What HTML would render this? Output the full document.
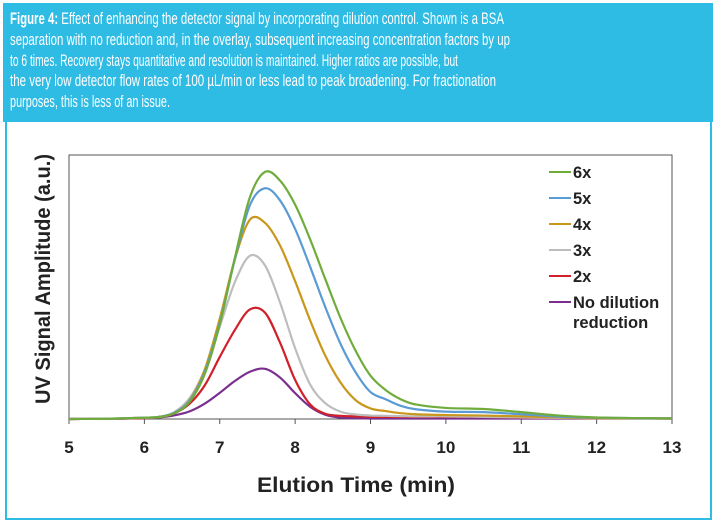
<!DOCTYPE html>
<html><head><meta charset="utf-8"><style>
html,body{margin:0;padding:0;background:#fff;}
svg{display:block;font-family:"Liberation Sans",sans-serif;}
</style></head><body>
<svg id="chart" width="716" height="524" viewBox="0 0 716 524">
<rect x="6" y="4" width="705" height="515" fill="#fff" stroke="#2ebbe4" stroke-width="2"/>
<rect x="3" y="3" width="710" height="119" fill="#2ebbe4"/>
<g fill="#fff" font-size="16.5">
<text x="10" y="24" textLength="494" lengthAdjust="spacingAndGlyphs"><tspan font-weight="bold">Figure 4:</tspan> Effect of enhancing the detector signal by incorporating dilution control. Shown is a BSA</text>
<text x="10" y="45" textLength="500" lengthAdjust="spacingAndGlyphs">separation with no reduction and, in the overlay, subsequent increasing concentration factors by up</text>
<text x="10" y="66" textLength="448" lengthAdjust="spacingAndGlyphs">to 6 times. Recovery stays quantitative and resolution is maintained. Higher ratios are possible, but</text>
<text x="10" y="86" textLength="486" lengthAdjust="spacingAndGlyphs">the very low detector flow rates of 100 µL/min or less lead to peak broadening. For fractionation</text>
<text x="10" y="107" textLength="160" lengthAdjust="spacingAndGlyphs">purposes, this is less of an issue.</text>
</g>
<rect x="69" y="155" width="603" height="264" fill="none" stroke="#555" stroke-width="1"/>
<g id="ticks"></g>
<g id="series"></g>
<g id="legend"></g>
<text x="356" y="492" text-anchor="middle" font-size="21" font-weight="bold" fill="#222" textLength="198" lengthAdjust="spacingAndGlyphs">Elution Time (min)</text>
<text transform="translate(50,279) rotate(-90)" text-anchor="middle" font-size="21" font-weight="bold" fill="#222" textLength="250" lengthAdjust="spacingAndGlyphs">UV Signal Amplitude (a.u.)</text>
</svg>
<script>
const times = [5,5.5,6,6.2,6.4,6.6,6.8,7,7.2,7.4,7.6,7.8,8,8.2,8.4,8.6,8.8,9,9.2,9.4,9.6,10,10.5,11,11.5,12,13];
const s6x = [0,0.1,0.5,0.8,2.2,6.5,17,35.8,61,84,93.6,90.3,81.2,68,53,38.4,26,16.4,11,7.5,5.5,4.2,3.8,2.6,1.3,0.6,0.2];
const s5x = [0,0.1,0.5,0.8,2.4,6.9,17.7,36.4,60.4,81,87.4,82.8,72,57.6,42.4,28.6,17.8,10.2,7.5,5,3.7,2.8,2.6,1.8,0.9,0.5,0.2];
const s4x = [0,0.1,0.5,0.7,2.3,7.1,18.7,38,60.5,75.5,74.3,65.7,52.2,37.3,24,13.9,7.2,4,3,2.2,1.8,1.5,1.3,1,0.6,0.3,0.2];
const s3x = [0,0.1,0.5,0.8,2.7,7.9,18.5,35,51.8,61.8,58.2,44.1,26.8,13,6,2.8,1.7,1.3,1.2,1.1,1,1,0.8,0.6,0.4,0.3,0.2];
const s2x = [0,0.1,0.3,0.8,2.2,5.8,12.7,23.5,33.7,41.5,40.3,28.9,14.8,5.5,2,1.2,1,0.8,0.8,0.8,0.8,0.8,0.8,0.5,0.4,0.3,0.2];
const s1x = [0,0.1,0.3,0.6,1.4,2.9,5.8,9.9,14.4,17.9,19,15.7,9.8,4.6,1.6,0.5,0.3,0.2,0.2,0.2,0.2,0.2,0.2,0.2,0.2,0.2,0.2];
const seriesNames = ["6x","5x","4x","3x","2x","No dilution reduction"];
const seriesColors = ["#6fac3c","#5b9bd5","#c9971b","#bdbdbd","#d0202a","#7a2f8f"];
const seriesData = [s6x,s5x,s4x,s3x,s2x,s1x];
const xTicks = [5,6,7,8,9,10,11,12,13];
const NS="http://www.w3.org/2000/svg";
function xs(t){return 69+(t-5)*(603/8);}
function ys(v){return 419-v*2.64;}
const tg=document.getElementById('ticks');
xTicks.forEach(t=>{
  const l=document.createElementNS(NS,'line');
  l.setAttribute('x1',xs(t));l.setAttribute('x2',xs(t));l.setAttribute('y1',419);l.setAttribute('y2',424);
  l.setAttribute('stroke','#555');
  
  
  tg.appendChild(l);
  const tx=document.createElementNS(NS,'text');
  tx.setAttribute('x',xs(t));tx.setAttribute('y',453);tx.setAttribute('text-anchor','middle');
  tx.setAttribute('font-size','17');tx.setAttribute('font-weight','bold');tx.setAttribute('fill','#222');
  tx.textContent=t;
  
  
  tg.appendChild(tx);
});
function pathFor(vals){
  const p=times.map((t,i)=>[xs(t),ys(vals[i])]);
  let d='M'+p[0][0]+','+p[0][1];
  for(let i=0;i<p.length-1;i++){
    const p0=p[Math.max(0,i-1)],p1=p[i],p2=p[i+1],p3=p[Math.min(p.length-1,i+2)];
    const h=(p2[0]-p1[0]);
    const m1=(p2[1]-p0[1])/(p2[0]-p0[0]||1), m2=(p3[1]-p1[1])/(p3[0]-p1[0]||1);
    const c1x=p1[0]+h/3,c1y=Math.min(419,p1[1]+m1*h/3);
    const c2x=p2[0]-h/3,c2y=Math.min(419,p2[1]-m2*h/3);
    d+=' C'+c1x+','+c1y+' '+c2x+','+c2y+' '+p2[0]+','+p2[1];
  }
  return d;
}
const sg=document.getElementById('series');
for(let k=seriesData.length-1;k>=0;k--){
  const path=document.createElementNS(NS,'path');
  path.setAttribute('d',pathFor(seriesData[k]));
  path.setAttribute('fill','none');path.setAttribute('stroke',seriesColors[k]);path.setAttribute('stroke-width','2.2');
  
  
  sg.appendChild(path);
}
const lg=document.getElementById('legend');
const rowY=[172,198,224,250,276,302];
seriesNames.forEach((n,i)=>{
  const l=document.createElementNS(NS,'line');
  l.setAttribute('x1',549);l.setAttribute('x2',571);l.setAttribute('y1',rowY[i]);l.setAttribute('y2',rowY[i]);
  l.setAttribute('stroke',seriesColors[i]);l.setAttribute('stroke-width','2');
  
  
  lg.appendChild(l);
  const parts=n==="No dilution reduction"?["No dilution","reduction"]:[n];
  parts.forEach((s,j)=>{
    const tx=document.createElementNS(NS,'text');
    tx.setAttribute('x',573);tx.setAttribute('y',rowY[i]+6+j*20);
    tx.setAttribute('font-size','16.5');tx.setAttribute('font-weight','bold');tx.setAttribute('fill','#222');
    tx.textContent=s;
    
    
    lg.appendChild(tx);
  });
});
</script>
</body></html>
